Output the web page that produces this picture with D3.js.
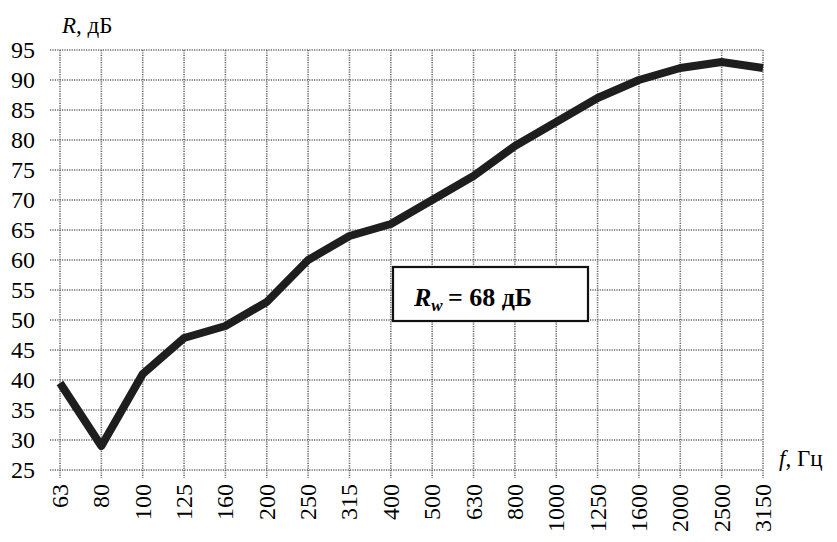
<!DOCTYPE html>
<html>
<head>
<meta charset="utf-8">
<script src="https://cdn.jsdelivr.net/npm/d3@7"></script>
</head>
<body style="margin:0">
<div id="chart"></div>
<script>
// frequencies, Hz (x categories)
const freqs = ['63', '80', '100', '125', '160', '200', '250', '315', '400', '500',
  '630', '800', '1000', '1250', '1600', '2000', '2500', '3150'];
// sound insulation R, dB
const rValues = [39.5, 29, 41, 47, 49, 53, 60, 64, 66, 70, 74, 79, 83, 87, 90, 92, 93, 92];
const yTicks = [25, 30, 35, 40, 45, 50, 55, 60, 65, 70, 75, 80, 85, 90, 95];

const serif = 'Liberation Serif';
const svg = d3.select('#chart').append('svg')
  .attr('width', 837)
  .attr('height', 542);

const x = d3.scalePoint().domain(freqs).range([60, 763]);
const y = d3.scaleLinear().domain([25, 95]).range([470, 50]);

// dotted grid
const grid = svg.append('g')
  .attr('stroke', '#666')
  .attr('stroke-width', 1.6)
  .attr('stroke-dasharray', '1.2,1.2');

grid.selectAll('line.h')
  .data(yTicks)
  .enter().append('line')
  .attr('x1', 50).attr('x2', x('3150'))
  .attr('y1', (d) => y(d)).attr('y2', (d) => y(d));

grid.selectAll('line.v')
  .data(freqs)
  .enter().append('line')
  .attr('x1', (d) => x(d)).attr('x2', (d) => x(d))
  .attr('y1', y(95)).attr('y2', y(25) + 8);

// y tick labels
svg.selectAll('text.yl')
  .data(yTicks)
  .enter().append('text')
  .attr('x', 35)
  .attr('y', (d) => y(d) + 8)
  .attr('text-anchor', 'end')
  .attr('font-family', serif)
  .attr('font-size', 24)
  .text((d) => d);

// x tick labels, rotated
svg.selectAll('text.xl')
  .data(freqs)
  .enter().append('text')
  .attr('transform', (d) => 'translate(' + (x(d) + 8) + ',484)rotate(-90)')
  .attr('text-anchor', 'end')
  .attr('font-family', serif)
  .attr('font-size', 24)
  .text((d) => d);

// axis titles
const yTitle = svg.append('text')
  .attr('x', 62).attr('y', 33)
  .attr('font-family', serif)
  .attr('font-size', 23);
yTitle.append('tspan').attr('font-style', 'italic').text('R');
yTitle.append('tspan').text(', дБ');

const xTitle = svg.append('text')
  .attr('x', 779).attr('y', 466)
  .attr('font-family', serif)
  .attr('font-size', 23);
xTitle.append('tspan').attr('font-style', 'italic').text('f');
xTitle.append('tspan').text(', Гц');

// curve
const line = d3.line()
  .x((d, i) => x(freqs[i]))
  .y((d) => y(d));

svg.append('path')
  .datum(rValues)
  .attr('fill', 'none')
  .attr('stroke', '#1e1e1e')
  .attr('stroke-width', 8)
  .attr('stroke-linejoin', 'round')
  .attr('d', line);

// Rw box
svg.append('rect')
  .attr('x', 393).attr('y', 267)
  .attr('width', 195).attr('height', 54)
  .attr('fill', '#fff')
  .attr('stroke', '#111')
  .attr('stroke-width', 2.2);

const label = svg.append('text')
  .attr('x', 414).attr('y', 306)
  .attr('font-family', serif)
  .attr('font-size', 26)
  .attr('font-weight', 'bold');
label.append('tspan').attr('font-style', 'italic').text('R');
label.append('tspan').attr('font-style', 'italic').attr('font-size', 17).attr('dy', 5).text('w');
label.append('tspan').attr('dy', -5).text('\u2009= 68 дБ');
</script>
</body>
</html>
